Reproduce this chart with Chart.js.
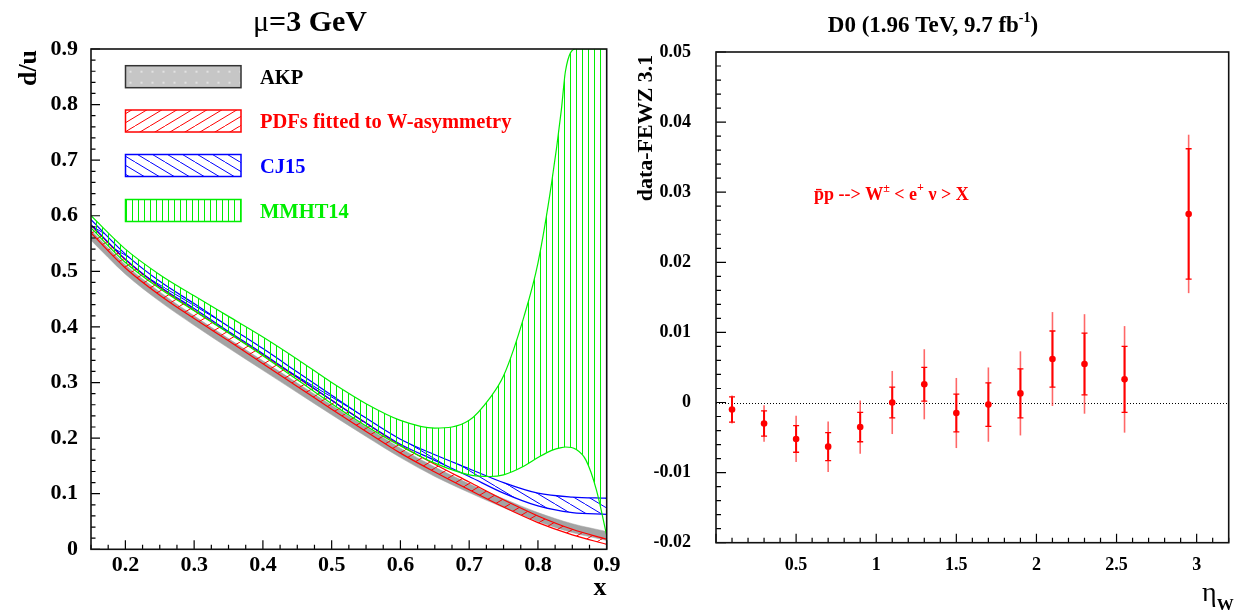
<!DOCTYPE html>
<html><head><meta charset="utf-8">
<script src="https://cdn.jsdelivr.net/npm/chart.js@4.4.0/dist/chart.umd.min.js"></script>
<style>
html,body{margin:0;padding:0;background:#fff;}
body{width:1235px;height:613px;position:relative;overflow:hidden;}
canvas{position:absolute;top:0;}
#c1{left:0;} #c2{left:620px;}
</style></head><body>
<canvas id="c1" width="620" height="613"></canvas>
<canvas id="c2" width="615" height="613"></canvas>
<script>
// ---------- Left panel data (d/u at mu = 3 GeV) ----------
const curveX  = [0.15,0.2,0.25,0.3,0.35,0.4,0.45,0.5,0.55,0.6,0.65,0.7,0.75,0.8,0.85,0.9];
const akpHi   = [0.574,0.512,0.463,0.420,0.379,0.339,0.299,0.259,0.220,0.182,0.148,0.118,0.091,0.066,0.046,0.032];
const akpLo   = [0.556,0.495,0.446,0.403,0.362,0.322,0.282,0.242,0.203,0.165,0.131,0.102,0.075,0.050,0.030,0.016];
const redHi   = [0.583,0.521,0.472,0.430,0.390,0.350,0.309,0.268,0.227,0.187,0.153,0.121,0.089,0.060,0.036,0.018];
const redLo   = [0.569,0.506,0.457,0.415,0.375,0.334,0.293,0.252,0.212,0.173,0.139,0.107,0.076,0.048,0.026,0.009];
const cjHi    = [0.593,0.531,0.482,0.442,0.401,0.361,0.319,0.277,0.236,0.198,0.170,0.145,0.120,0.101,0.094,0.092];
const cjLo    = [0.584,0.522,0.473,0.433,0.392,0.352,0.310,0.268,0.227,0.189,0.160,0.131,0.101,0.078,0.066,0.063];
const mmhtX   = [0.15,0.2,0.25,0.3,0.35,0.4,0.45,0.5,0.55,0.6,0.65,0.7,0.73,0.75,0.78,0.8,0.82,0.834,0.84,0.855,0.87,0.885,0.9];
const mmhtHi  = [0.600,0.540,0.494,0.456,0.419,0.382,0.342,0.300,0.262,0.232,0.218,0.232,0.272,0.312,0.420,0.515,0.660,0.790,0.860,0.900,0.900,0.900,0.900];
const mmhtLo  = [0.578,0.516,0.469,0.429,0.389,0.348,0.305,0.262,0.222,0.186,0.155,0.134,0.131,0.134,0.150,0.165,0.178,0.183,0.184,0.180,0.160,0.107,0.025];
const leftXTicks  = [0.2,0.3,0.4,0.5,0.6,0.7,0.8,0.9];
const leftXLabels = ['0.2','0.3','0.4','0.5','0.6','0.7','0.8','0.9'];
const leftYTicks  = [0,0.1,0.2,0.3,0.4,0.5,0.6,0.7,0.8,0.9];
const leftYLabels = ['0','0.1','0.2','0.3','0.4','0.5','0.6','0.7','0.8','0.9'];
const legendNames = ['AKP','PDFs fitted to W-asymmetry','CJ15','MMHT14'];

// ---------- Right panel data (D0 W asymmetry, data - FEWZ 3.1) ----------
const etaX     = [0.1,0.3,0.5,0.7,0.9,1.1,1.3,1.5,1.7,1.9,2.1,2.3,2.55,2.95];
const diffY    = [-0.0010,-0.0030,-0.0052,-0.0063,-0.0035,0.0000,0.0026,-0.0015,-0.0003,0.0013,0.0062,0.0055,0.0033,0.0269];
const errInner = [0.0018,0.0018,0.0019,0.0020,0.0021,0.0022,0.0024,0.0027,0.0031,0.0035,0.0040,0.0044,0.0047,0.0093];
const errOuter = [0.0020,0.0026,0.0033,0.0036,0.0038,0.0045,0.0050,0.0050,0.0053,0.0060,0.0067,0.0071,0.0076,0.0113];
const rightXTicks  = [0.5,1,1.5,2,2.5,3];
const rightXLabels = ['0.5','1','1.5','2','2.5','3'];
const rightYTicks  = [-0.02,-0.01,0,0.01,0.02,0.03,0.04,0.05];
const rightYLabels = ['-0.02','-0.01','0','0.01','0.02','0.03','0.04','0.05'];

// ---------- helpers ----------
const SERIF = "'Liberation Serif','Times New Roman',serif";
const RED = '#ff0000', BLUE = '#0000ff', GREEN = '#00ee00', GREY = '#a3a3a3';
const pts = (xs, ys) => xs.map((x, i) => ({x, y: ys[i]}));

function hatch(ctxTarget, kind, color) {
  const c = document.createElement('canvas');
  const g = c.getContext('2d');
  if (kind === 'v') {
    c.width = 6; c.height = 6;
    g.strokeStyle = color; g.lineWidth = 1;
    g.beginPath(); g.moveTo(0.5, 0); g.lineTo(0.5, 6); g.stroke();
  } else {
    c.width = 30; c.height = 18;
    g.strokeStyle = color; g.lineWidth = 1;
    g.beginPath();
    for (let off = -45; off <= 45; off += 15) {
      if (kind === '/') { g.moveTo(off, 18); g.lineTo(off + 30, 0); }
      else { g.moveTo(off, 0); g.lineTo(off + 30, 18); }
    }
    g.stroke();
  }
  return ctxTarget.createPattern(c, 'repeat');
}

function txt(ctx, s, x, y, size, weight, color, align, base) {
  ctx.font = (weight || 'bold') + ' ' + size + 'px ' + SERIF;
  ctx.fillStyle = color || '#000';
  ctx.textAlign = align || 'left';
  ctx.textBaseline = base || 'alphabetic';
  ctx.fillText(s, x, y);
  return ctx.measureText(s).width;
}
function width(ctx, s, size, weight) {
  ctx.font = (weight || 'bold') + ' ' + size + 'px ' + SERIF;
  return ctx.measureText(s).width;
}

const ctx1 = document.getElementById('c1').getContext('2d');
const ctx2 = document.getElementById('c2').getContext('2d');
const redPat = hatch(ctx1, '/', RED);
const bluePat = hatch(ctx1, '\\', BLUE);
const greenPat = hatch(ctx1, 'v', GREEN);

// ---------- Left decorations ----------
const leftDecor = {
  id: 'leftDecor',
  afterDraw(chart) {
    const {ctx, chartArea: a, scales: {x, y}} = chart;
    ctx.save();
    ctx.strokeStyle = '#000'; ctx.lineWidth = 1.2;
    ctx.beginPath();
    for (let i = 0; i <= 45; i++) {
      const py = y.getPixelForValue(i * 0.02);
      const len = (i % 5 === 0) ? 9 : 4.5;
      ctx.moveTo(a.left, py); ctx.lineTo(a.left + len, py);
    }
    for (let i = 0; i <= 30; i++) {
      const px = x.getPixelForValue(0.15 + i * 0.025);
      const len = (i % 4 === 2) ? 9 : 4.5;
      ctx.moveTo(px, a.bottom); ctx.lineTo(px, a.bottom - len);
    }
    ctx.stroke();
    ctx.lineWidth = 1.6; ctx.strokeStyle = '#111';
    ctx.strokeRect(a.left, a.top, a.right - a.left, a.bottom - a.top);

    // legend
    const bx = 125.5, bw = 115.5, bh = 22;
    const rows = [65.7, 110, 154.5, 199.5];
    const fills = [null, redPat, bluePat, greenPat];
    const cols = ['#333', RED, BLUE, GREEN];
    const tcols = ['#000', RED, BLUE, GREEN];
    rows.forEach((ry, i) => {
      if (i === 0) {
        ctx.fillStyle = '#c6c6c6'; ctx.fillRect(bx, ry, bw, bh);
        ctx.fillStyle = '#e2e2e2';
        for (let dx = 4; dx < bw; dx += 11) for (let dy = 5; dy < bh; dy += 11) ctx.fillRect(bx + dx, ry + dy, 2, 2);
      } else {
        ctx.fillStyle = '#fff'; ctx.fillRect(bx, ry, bw, bh);
        ctx.fillStyle = fills[i]; ctx.fillRect(bx, ry, bw, bh);
      }
      ctx.strokeStyle = cols[i]; ctx.lineWidth = 1.5;
      ctx.strokeRect(bx, ry, bw, bh);
      txt(ctx, legendNames[i], 260, ry + bh / 2 + 7, 20.5, 'bold', tcols[i]);
    });

    // title  "μ=3 GeV"
    const w1 = width(ctx, 'μ', 30, 'normal'), w2 = width(ctx, '=3 GeV', 30, 'bold');
    const sx = 310 - (w1 + w2) / 2;
    txt(ctx, 'μ', sx, 31, 30, 'normal', '#000');
    txt(ctx, '=3 GeV', sx + w1, 31, 30, 'bold', '#000');

    // axis titles
    txt(ctx, 'x', 600, 595, 26, 'bold', '#000', 'center');
    ctx.save();
    ctx.translate(36, 68); ctx.rotate(-Math.PI / 2);
    txt(ctx, 'd/u', 0, 0, 26, 'bold', '#000', 'center');
    ctx.restore();
    ctx.restore();
  }
};

new Chart(ctx1, {
  type: 'line',
  data: {
    datasets: [
      {label: legendNames[3], data: pts(mmhtX, mmhtHi), borderColor: GREEN, borderWidth: 1.2, fill: '+1', backgroundColor: greenPat, order: 0},
      {label: legendNames[3] + ' lo', data: pts(mmhtX, mmhtLo), borderColor: GREEN, borderWidth: 1.2, fill: false, order: 0},
      {label: legendNames[2], data: pts(curveX, cjHi), borderColor: BLUE, borderWidth: 1.2, fill: '+1', backgroundColor: bluePat, order: 1},
      {label: legendNames[2] + ' lo', data: pts(curveX, cjLo), borderColor: BLUE, borderWidth: 1.2, fill: false, order: 1},
      {label: legendNames[1], data: pts(curveX, redHi), borderColor: RED, borderWidth: 1.2, fill: '+1', backgroundColor: redPat, order: 2},
      {label: legendNames[1] + ' lo', data: pts(curveX, redLo), borderColor: RED, borderWidth: 1.2, fill: false, order: 2},
      {label: legendNames[0], data: pts(curveX, akpHi), borderColor: GREY, borderWidth: 0.5, fill: '+1', backgroundColor: GREY, order: 3},
      {label: legendNames[0] + ' lo', data: pts(curveX, akpLo), borderColor: GREY, borderWidth: 0.5, fill: false, order: 3},
      {label: 'mmht edge', data: [{x: mmhtX[mmhtX.length - 1], y: mmhtHi[mmhtHi.length - 1]}, {x: mmhtX[mmhtX.length - 1], y: mmhtLo[mmhtLo.length - 1]}], borderColor: GREEN, borderWidth: 1.2, fill: false, cubicInterpolationMode: 'default', tension: 0, order: 0},
      {label: 'cj edge', data: [{x: curveX[curveX.length - 1], y: cjHi[cjHi.length - 1]}, {x: curveX[curveX.length - 1], y: cjLo[cjLo.length - 1]}], borderColor: BLUE, borderWidth: 1.2, fill: false, cubicInterpolationMode: 'default', tension: 0, order: 1}
    ]
  },
  options: {
    responsive: false, animation: false, devicePixelRatio: 1,
    layout: {padding: {left: 0, top: 49, right: 13.3, bottom: 0}},
    plugins: {legend: {display: false}, tooltip: {enabled: false}, filler: {propagate: false}},
    elements: {point: {radius: 0}, line: {cubicInterpolationMode: 'monotone'}},
    scales: {
      x: {
        type: 'linear', min: 0.15, max: 0.9,
        grid: {display: false, drawTicks: false}, border: {display: false},
        afterBuildTicks: s => { s.ticks = leftXTicks.map(v => ({value: v})); },
        afterFit: s => { s.height = 63.7; s.paddingLeft = 0; s.paddingRight = 0; },
        ticks: {autoSkip: false, maxRotation: 0, minRotation: 0, padding: 3, color: '#000',
                font: {family: SERIF, size: 22, weight: 'bold'}, callback: (v, i) => leftXLabels[i]}
      },
      y: {
        type: 'linear', min: 0, max: 0.9,
        grid: {display: false, drawTicks: false}, border: {display: false},
        afterBuildTicks: s => { s.ticks = leftYTicks.map(v => ({value: v})); },
        afterFit: s => { s.width = 91; s.paddingTop = 0; s.paddingBottom = 0; },
        ticks: {autoSkip: false, padding: 13, color: '#000',
                font: {family: SERIF, size: 22, weight: 'bold'}, callback: (v, i) => leftYLabels[i]}
      }
    }
  },
  plugins: [leftDecor]
});

// ---------- Right decorations ----------
const rightDecor = {
  id: 'rightDecor',
  beforeDatasetsDraw(chart) {
    const {ctx, chartArea: a, scales: {x, y}} = chart;
    ctx.save();
    ctx.strokeStyle = '#000'; ctx.lineWidth = 1; ctx.setLineDash([1, 2]);
    const py0 = Math.round(y.getPixelForValue(0)) + 0.5;
    ctx.beginPath(); ctx.moveTo(a.left, py0); ctx.lineTo(a.right, py0); ctx.stroke();
    ctx.setLineDash([]);
    etaX.forEach((ex, i) => {
      const px = x.getPixelForValue(ex);
      const oT = y.getPixelForValue(diffY[i] + errOuter[i]);
      const oB = y.getPixelForValue(diffY[i] - errOuter[i]);
      const iT = y.getPixelForValue(diffY[i] + errInner[i]);
      const iB = y.getPixelForValue(diffY[i] - errInner[i]);
      ctx.strokeStyle = 'rgba(255,40,40,0.7)'; ctx.lineWidth = 1.6;
      ctx.beginPath(); ctx.moveTo(px, oT); ctx.lineTo(px, oB); ctx.stroke();
      ctx.strokeStyle = RED; ctx.lineWidth = 2;
      ctx.beginPath(); ctx.moveTo(px, iT); ctx.lineTo(px, iB); ctx.stroke();
      ctx.lineWidth = 1.3;
      ctx.beginPath();
      ctx.moveTo(px - 3, iT); ctx.lineTo(px + 3, iT);
      ctx.moveTo(px - 3, iB); ctx.lineTo(px + 3, iB);
      ctx.stroke();
    });
    ctx.restore();
  },
  afterDraw(chart) {
    const {ctx, chartArea: a, scales: {x, y}} = chart;
    ctx.save();
    ctx.strokeStyle = '#000'; ctx.lineWidth = 1.2;
    ctx.beginPath();
    for (let i = 0; i <= 35; i++) {
      const py = y.getPixelForValue(-0.02 + i * 0.002);
      const len = (i % 5 === 0) ? 10 : 5;
      ctx.moveTo(a.left, py); ctx.lineTo(a.left + len, py);
    }
    for (let i = 0; i <= 32; i++) {
      const px = x.getPixelForValue(i * 0.1);
      const len = (i % 5 === 0) ? 9 : 5;
      ctx.moveTo(px, a.bottom); ctx.lineTo(px, a.bottom - len);
    }
    ctx.stroke();
    ctx.lineWidth = 1.6; ctx.strokeStyle = '#111';
    ctx.strokeRect(a.left, a.top, a.right - a.left, a.bottom - a.top);

    const t1 = 'D0 (1.96 TeV, 9.7 fb', t2 = '-1', t3 = ')';
    const w1 = width(ctx, t1, 23), w2 = width(ctx, t2, 14), w3 = width(ctx, t3, 23);
    let sx = 313 - (w1 + w2 + w3) / 2;
    txt(ctx, t1, sx, 32, 23); sx += w1;
    txt(ctx, t2, sx, 22, 14); sx += w2;
    txt(ctx, t3, sx, 32, 23);

    let ax = 194; const ay = 200;
    ax += txt(ctx, 'p\u0304p --> W', ax, ay, 18, 'bold', RED);
    ax += txt(ctx, '\u00b1', ax, ay - 8, 12, 'bold', RED);
    ax += txt(ctx, ' < e', ax, ay, 18, 'bold', RED);
    ax += txt(ctx, '+', ax, ay - 9, 12, 'bold', RED);
    ax += txt(ctx, ' \u03bd > X', ax, ay, 18, 'bold', RED);

    ctx.save();
    ctx.translate(32, 128); ctx.rotate(-Math.PI / 2);
    txt(ctx, 'data-FEWZ 3.1', 0, 0, 22, 'bold', '#000', 'center');
    ctx.restore();
    const we = txt(ctx, '\u03b7', 582, 601, 28, 'normal', '#000');
    txt(ctx, 'W', 582 + we, 610, 17, 'bold', '#000');
    ctx.restore();
  }
};

new Chart(ctx2, {
  type: 'scatter',
  data: {
    datasets: [{label: 'data-FEWZ 3.1', data: pts(etaX, diffY), pointRadius: 3.3, pointBackgroundColor: RED, pointBorderWidth: 0, showLine: false}]
  },
  options: {
    responsive: false, animation: false, devicePixelRatio: 1,
    layout: {padding: {left: 0, top: 52, right: 6.3, bottom: 0}},
    plugins: {legend: {display: false}, tooltip: {enabled: false}},
    scales: {
      x: {
        type: 'linear', min: 0, max: 3.2,
        grid: {display: false, drawTicks: false}, border: {display: false},
        afterBuildTicks: s => { s.ticks = rightXTicks.map(v => ({value: v})); },
        afterFit: s => { s.height = 70.3; s.paddingLeft = 0; s.paddingRight = 0; },
        ticks: {autoSkip: false, maxRotation: 0, minRotation: 0, padding: 12, color: '#000',
                font: {family: SERIF, size: 18, weight: 'bold'}, callback: (v, i) => rightXLabels[i]}
      },
      y: {
        type: 'linear', min: -0.02, max: 0.05,
        grid: {display: false, drawTicks: false}, border: {display: false},
        afterBuildTicks: s => { s.ticks = rightYTicks.map(v => ({value: v})); },
        afterFit: s => { s.width = 96; s.paddingTop = 0; s.paddingBottom = 0; },
        ticks: {autoSkip: false, padding: 25, color: '#000',
                font: {family: SERIF, size: 18, weight: 'bold'}, callback: (v, i) => rightYLabels[i]}
      }
    }
  },
  plugins: [rightDecor]
});
</script>
</body></html>
